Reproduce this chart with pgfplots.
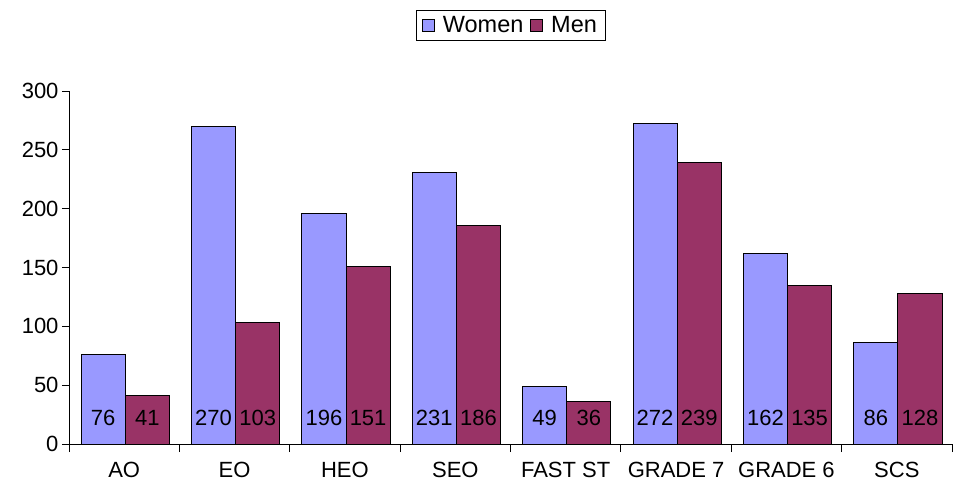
\documentclass[border=0pt]{standalone}
\usepackage{pgfplots}
\pgfplotsset{compat=1.18}
\usepackage{fontspec}
\setmainfont{Liberation Sans}
\definecolor{women}{HTML}{9999FF}
\definecolor{men}{HTML}{993366}
\newcommand{\cf}{\fontsize{22bp}{25bp}\selectfont}
\newcommand{\lf}{\fontsize{23.5bp}{26bp}\selectfont}
\begin{document}
\begin{tikzpicture}
\useasboundingbox (-69bp,-46bp) rectangle (890bp,444bp);
\begin{axis}[
  at={(0,0)}, anchor=south west,
  scale only axis,
  width=883bp, height=353bp,
  xmin=-0.5, xmax=7.5, ymin=0, ymax=300,
  axis x line=bottom, axis y line=left,
  axis line style={-, line width=0.8bp},
  ytick={0,50,...,300},
  xtick={0,...,7},
  xticklabels={AO,EO,HEO,SEO,FAST ST,GRADE 7,GRADE 6,SCS},
  minor xtick={-0.5,0.5,...,7.5},
  major x tick style={draw=none},
  tick align=outside,
  major tick length=7bp, minor tick length=8bp,
  tick style={black, line width=0.8bp},
  /pgf/number format/assume math mode=true,
  tick label style={font=\cf},
  xticklabel style={yshift=-8bp},
  ybar, bar width=0.4,
  legend style={at={(0.5,1.187)}, anchor=center, draw=black, font=\lf,
    legend columns=2, inner xsep=6bp, inner ysep=4bp,
    /tikz/every even column/.append style={column sep=5bp},
    /tikz/every odd column/.append style={column sep=6bp}},
  legend image code/.code={\draw[#1, draw=black, line width=0.8bp] (0bp,-6bp) rectangle (12bp,6bp);},
  nodes near coords,
  nodes near coords style={font=\cf, anchor=center, black},
]
\addplot[fill=women, draw=black, line width=1bp, bar shift=-0.19,
  visualization depends on={\thisrow{v} \as \val},
  nodes near coords style={yshift={(22-\val)*1.18108}}]
  table {
x v
0 76
1 270
2 196
3 231
4 49
5 272
6 162
7 86
};
\addplot[fill=men, draw=black, line width=1bp, bar shift=0.21,
  visualization depends on={\thisrow{v} \as \val},
  nodes near coords style={yshift={(22-\val)*1.18108}}]
  table {
x v
0 41
1 103
2 151
3 186
4 36
5 239
6 135
7 128
};
\legend{Women,Men}
\end{axis}
\end{tikzpicture}
\end{document}
